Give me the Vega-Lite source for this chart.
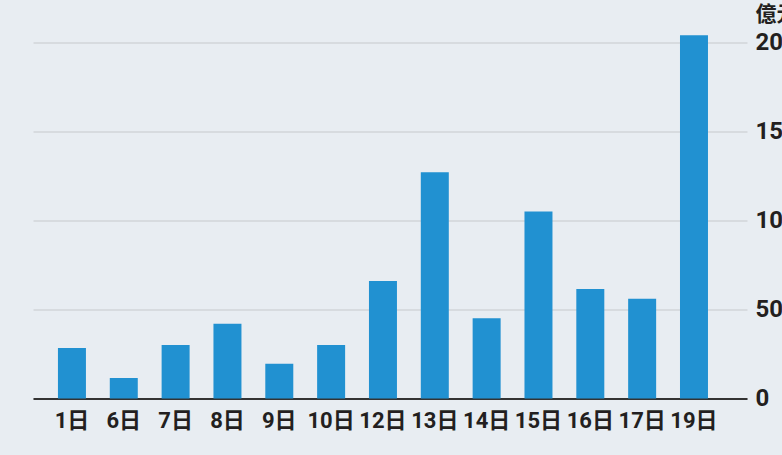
{
  "$schema": "https://vega.github.io/schema/vega-lite/v6.json",
  "width": 714,
  "height": 374,
  "autosize": {"type": "none"},
  "padding": {"left": 33, "top": 24.5, "right": 35, "bottom": 56.5},
  "background": "#e8edf2",
  "config": {
    "view": {"stroke": null},
    "font": "Roboto, Noto Sans CJK SC"
  },
  "data": {
    "values": [
      {"day": "1日", "value": 28.4},
      {"day": "6日", "value": 11.5},
      {"day": "7日", "value": 30},
      {"day": "8日", "value": 42},
      {"day": "9日", "value": 19.5},
      {"day": "10日", "value": 30},
      {"day": "12日", "value": 66},
      {"day": "13日", "value": 127},
      {"day": "14日", "value": 45},
      {"day": "15日", "value": 105},
      {"day": "16日", "value": 61.5},
      {"day": "17日", "value": 56},
      {"day": "19日", "value": 204}
    ]
  },
  "mark": {"type": "bar", "color": "#2191d1"},
  "encoding": {
    "x": {
      "field": "day",
      "type": "nominal",
      "sort": null,
      "scale": {"paddingInner": 0.46, "paddingOuter": 0.617, "align": 0.39, "round": false},
      "axis": {
        "title": null,
        "labelAngle": 0,
        "ticks": false,
        "domainColor": "#333333",
        "domainWidth": 2,
        "labelFont": "Roboto, Noto Sans CJK SC",
        "labelFontSize": 22,
        "labelFontWeight": "bold",
        "labelColor": "#231f20",
        "labelPadding": 12,
        "grid": false
      }
    },
    "y": {
      "field": "value",
      "type": "quantitative",
      "scale": {"domain": [0, 210], "nice": false},
      "axis": {
        "orient": "right",
        "values": [0, 50, 100, 150, 200],
        "domain": false,
        "ticks": false,
        "grid": true,
        "gridColor": "#d2d5d9",
        "gridWidth": 1.5,
        "labelFont": "Roboto",
        "labelFontSize": 24,
        "labelFontWeight": "bold",
        "labelColor": "#231f20",
        "labelPadding": 8,
        "labelAlign": "left",
        "title": "億元",
        "titleAngle": 0,
        "titleAlign": "left",
        "titleBaseline": "top",
        "titleX": 8,
        "titleY": -21,
        "titleFont": "Noto Sans CJK SC",
        "titleFontSize": 21,
        "titleFontWeight": "bold",
        "titleColor": "#231f20"
      }
    }
  }
}
